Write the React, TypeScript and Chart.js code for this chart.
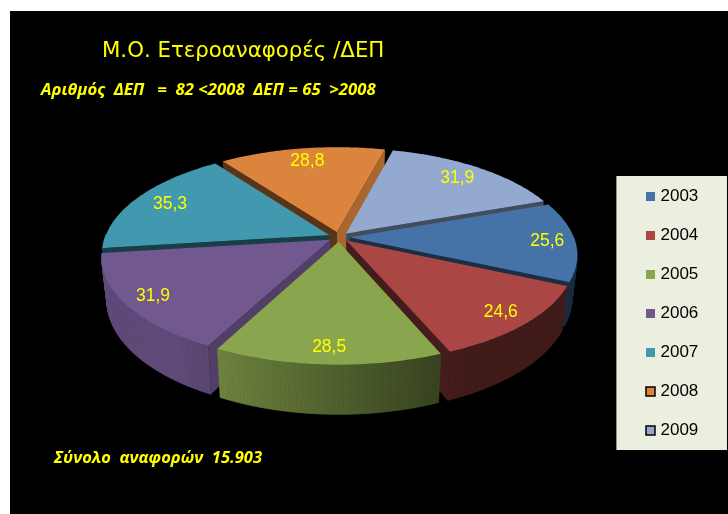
import React, { useEffect, useRef } from "react";
import { Chart, registerables } from "chart.js";

Chart.register(...registerables);

const categories = ["2003", "2004", "2005", "2006", "2007", "2008", "2009"];
const values = [25.6, 24.6, 28.5, 31.9, 35.3, 28.8, 31.9];
const colors = ["#4572A7", "#AA4643", "#89A54E", "#71588F", "#4198AF", "#DB843D", "#93A9CF"];
const titleText = "Μ.Ο. Ετεροαναφορές /ΔΕΠ";
const subtitleText = "Αριθμός  ΔΕΠ   =  82 <2008  ΔΕΠ = 65  >2008";
const footerText = "Σύνολο  αναφορών  15.903";

// projection of the pie plane on the page
const CX = 339, CY = 237, RX = 224, RY = 100.7, PERSP = 0.166, DEPTH = 41;

const project = (u: number, v: number, z = 0): [number, number] => {
  const s = 1 / (1 - PERSP * v);
  return [CX + RX * u * s * (1 - (0.022 * z) / DEPTH), CY + RY * v * s + z * s];
};

const shadeColor = (hex: string, f: number) => {
  const n = parseInt(hex.slice(1), 16);
  const c = [(n >> 16) & 255, (n >> 8) & 255, n & 255].map((x) => Math.round(x * f));
  return `rgb(${c[0]},${c[1]},${c[2]})`;
};

const poly = (ctx: CanvasRenderingContext2D, pts: [number, number][], fill: string, seam = false) => {
  ctx.beginPath();
  pts.forEach((p, i) => (i ? ctx.lineTo(p[0], p[1]) : ctx.moveTo(p[0], p[1])));
  ctx.closePath();
  ctx.fillStyle = fill;
  ctx.fill();
  if (seam) {
    ctx.strokeStyle = fill;
    ctx.lineWidth = 0.7;
    ctx.stroke();
  }
};

const pie3d = {
  id: "pie3d",
  beforeDraw(chart: any) {
    const { ctx, width, height } = chart;
    ctx.save();
    ctx.fillStyle = "#FFFFFF";
    ctx.fillRect(0, 0, width, height);
    ctx.fillStyle = "#000000";
    ctx.fillRect(10, 11, width - 10, height - 11);
    ctx.fillStyle = "#EBEFDF";
    ctx.fillRect(616, 176, 111, 274);
    ctx.fillStyle = "#8E9186";
    ctx.fillRect(616, 176, 1, 274);
    ctx.restore();
  },
  afterLayout(chart: any) {
    const l = chart.legend;
    l.left = 627;
    l.top = 166;
  },
  beforeDatasetsDraw(chart: any) {
    const { ctx } = chart;
    const arcs = chart.getDatasetMeta(0).data;
    const order = arcs
      .map((a: any, i: number) => ({ a, i, mid: (a.startAngle + a.endAngle) / 2 }))
      .sort((p: any, q: any) => Math.sin(p.mid) - Math.sin(q.mid));
    ctx.save();
    for (const { a, i, mid } of order) {
      const e = a.options.offset / a.outerRadius;
      const ox = e * Math.cos(mid), oy = e * Math.sin(mid);
      const col = colors[i];
      const rim = (t: number, z = 0) => project(ox + Math.cos(t), oy + Math.sin(t), z);
      const apex = (z = 0) => project(ox, oy, z);
      const steps = Math.ceil((a.endAngle - a.startAngle) / 0.015);
      const dt = (a.endAngle - a.startAngle) / steps;
      for (let k = 0; k < steps; k++) {
        const t0 = a.startAngle + k * dt, t1 = t0 + dt;
        if (Math.sin((t0 + t1) / 2) < 0) continue;
        const f = Math.min(0.85, Math.max(0.38, 0.58 - 0.46 * Math.cos((t0 + t1) / 2)));
        poly(ctx, [rim(t0), rim(t1), rim(t1, DEPTH), rim(t0, DEPTH)], shadeColor(col, f), true);
      }
      const wall = (t: number, nu: number, nv: number) => {
        if (nv <= 0) return;
        const f = 0.4 + 0.4 * Math.max(0, nu) * Math.max(0, nu);
        poly(ctx, [apex(), rim(t), rim(t, DEPTH), apex(DEPTH)], shadeColor(col, f));
      };
      wall(a.startAngle, Math.sin(a.startAngle), -Math.cos(a.startAngle));
      wall(a.endAngle, -Math.sin(a.endAngle), Math.cos(a.endAngle));
      const top: [number, number][] = [apex()];
      for (let k = 0; k <= steps; k++) top.push(rim(a.startAngle + k * dt));
      poly(ctx, top, col);
    }
    ctx.restore();
    return false;
  },
  afterDraw(chart: any) {
    const { ctx } = chart;
    const arcs = chart.getDatasetMeta(0).data;
    ctx.save();
    ctx.fillStyle = "#FFFF00";
    ctx.textBaseline = "alphabetic";
    ctx.textAlign = "left";
    ctx.font = '21.3px "DejaVu Sans"';
    ctx.fillText(titleText, 102, 57);
    ctx.font = 'italic bold 16.7px "Open Sans"';
    ctx.fillText(subtitleText, 41, 95);
    ctx.font = 'italic bold 16.5px "Open Sans"';
    ctx.fillText(footerText, 54, 463);
    ctx.font = '17.5px "Liberation Sans"';
    ctx.textAlign = "center";
    ctx.textBaseline = "middle";
    arcs.forEach((a: any, i: number) => {
      const mid = (a.startAngle + a.endAngle) / 2;
      const r = Math.sin(mid) > -0.1 ? 0.925 : 0.87;
      const [x, y] = project(r * Math.cos(mid), r * Math.sin(mid));
      ctx.fillText(values[i].toFixed(1).replace(".", ","), x, y);
    });
    ctx.restore();
  },
};

export default function App() {
  const ref = useRef<HTMLCanvasElement>(null);
  useEffect(() => {
    const chart = new Chart(ref.current as HTMLCanvasElement, {
      type: "pie",
      data: {
        labels: categories,
        datasets: [{ data: values, backgroundColor: colors, borderWidth: 0, offset: 12 }],
      },
      options: {
        responsive: false,
        animation: false,
        rotation: 70,
        plugins: {
          tooltip: { enabled: false },
          legend: {
            position: "right",
            align: "start",
            labels: {
              color: "#000000",
              font: { family: '"Liberation Sans"', size: 17 },
              usePointStyle: true,
              boxWidth: 3,
              boxHeight: 9,
              padding: 22,
              generateLabels: () =>
                categories.map((text, i) => ({
                  text,
                  index: i,
                  fillStyle: colors[i],
                  strokeStyle: "#000000",
                  lineWidth: i >= 5 ? 1.5 : 0,
                  pointStyle: "rect",
                  hidden: false,
                })),
            },
          },
        },
      } as any,
      plugins: [pie3d as any],
    });
    return () => chart.destroy();
  }, []);
  return (
    <canvas
      ref={ref}
      width={728}
      height={514}
      style={{ position: "fixed", left: 0, top: 0, display: "block" }}
    />
  );
}
